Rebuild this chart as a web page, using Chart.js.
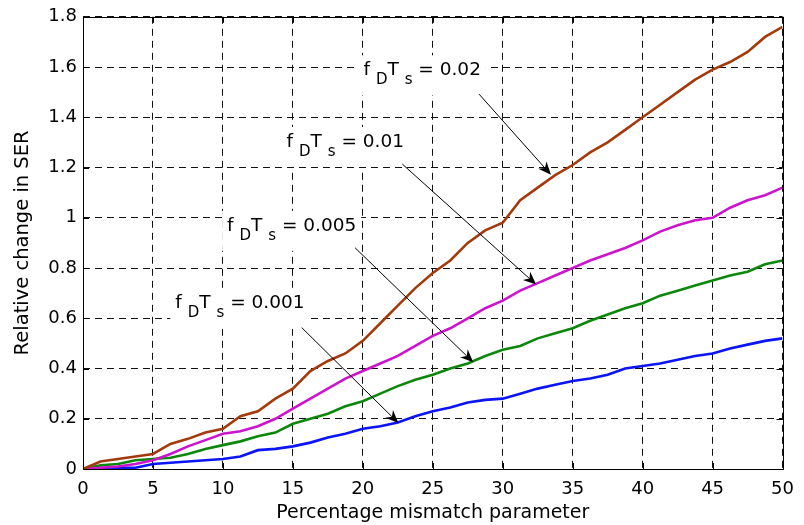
<!DOCTYPE html>
<html>
<head>
<meta charset="UTF-8">
<title>Relative change in SER</title>
<script src="https://cdn.jsdelivr.net/npm/chart.js@4.4.0/dist/chart.umd.min.js"></script>
<style>
    body { margin: 0; background: #fff; }
    #wrap { width: 804px; height: 525px; }
</style>
</head>
<body>
<div id="wrap"><canvas id="ser-chart"></canvas></div>
<script>
// percentage mismatch parameter (x axis)
const mismatch = [0, 1.25, 2.5, 3.75, 5, 6.25, 7.5, 8.75, 10, 11.25, 12.5, 13.75, 15, 16.25, 17.5, 18.75,
    20, 21.25, 22.5, 23.75, 25, 26.25, 27.5, 28.75, 30, 31.25, 32.5, 33.75, 35, 36.25, 37.5, 38.75,
    40, 41.25, 42.5, 43.75, 45, 46.25, 47.5, 48.75, 50];

// relative change in SER, one list per fD*Ts
const ser002 = [0, 0.03, 0.04, 0.05, 0.06, 0.10, 0.12, 0.145, 0.16, 0.21, 0.23, 0.28, 0.32, 0.39, 0.43, 0.46,
    0.51, 0.58, 0.65, 0.72, 0.78, 0.83, 0.90, 0.95, 0.98, 1.07, 1.12, 1.17, 1.21, 1.26, 1.30, 1.35,
    1.40, 1.45, 1.50, 1.55, 1.59, 1.62, 1.66, 1.72, 1.76];
const ser001 = [0, 0.005, 0.01, 0.02, 0.035, 0.06, 0.09, 0.115, 0.14, 0.15, 0.17, 0.20, 0.24, 0.28, 0.32, 0.36,
    0.39, 0.42, 0.45, 0.49, 0.53, 0.56, 0.60, 0.64, 0.67, 0.71, 0.74, 0.77, 0.80, 0.83, 0.855, 0.88,
    0.91, 0.945, 0.97, 0.99, 1.00, 1.04, 1.07, 1.09, 1.12];
const ser0005 = [0, 0.015, 0.02, 0.035, 0.04, 0.045, 0.06, 0.08, 0.095, 0.11, 0.13, 0.145, 0.18, 0.20, 0.22, 0.25,
    0.27, 0.30, 0.33, 0.355, 0.375, 0.40, 0.42, 0.45, 0.475, 0.49, 0.52, 0.54, 0.56, 0.59, 0.615, 0.64,
    0.66, 0.69, 0.71, 0.73, 0.75, 0.77, 0.785, 0.815, 0.83];
const ser0001 = [0, 0.005, 0.005, 0.005, 0.02, 0.025, 0.03, 0.035, 0.04, 0.05, 0.075, 0.08, 0.09, 0.105, 0.125, 0.14,
    0.16, 0.17, 0.185, 0.21, 0.23, 0.245, 0.265, 0.275, 0.28, 0.30, 0.32, 0.335, 0.35, 0.36, 0.375, 0.40,
    0.41, 0.42, 0.435, 0.45, 0.46, 0.48, 0.495, 0.51, 0.52];

const xTicks = [0, 5, 10, 15, 20, 25, 30, 35, 40, 45, 50];
const yTicks = [0, 0.2, 0.4, 0.6, 0.8, 1, 1.2, 1.4, 1.6, 1.8];
const yTickLabels = ['0', '0.2', '0.4', '0.6', '0.8', '1', '1.2', '1.4', '1.6', '1.8'];

// text labels + arrows, in data coordinates
const labelValues = ['0.02', '0.01', '0.005', '0.001'];
const labelAt = [[20.05, 1.567], [14.55, 1.282], [10.3, 0.948], [6.6, 0.639]];
const arrowFrom = [[28.31, 1.492], [22.82, 1.214], [19.44, 0.881], [15.63, 0.563]];
const arrowTo = [[33.45, 1.171], [32.39, 0.734], [27.89, 0.425], [22.54, 0.183]];

const FONT = '"DejaVu Sans", sans-serif';

function pts(ys) {
    return mismatch.map((x, i) => ({ x: x, y: ys[i] }));
}

// draws "f_D T_s = value" with a white box behind it
function drawLabel(ctx, x, y, value) {
    const main = '18.5px ' + FONT, sub = '15px ' + FONT;
    const parts = [['f ', main, 0], ['D', sub, 9], ['T ', main, 0], ['s', sub, 9], [' = ' + value, main, 0]];
    let w = 0;
    parts.forEach(p => { ctx.font = p[1]; w += ctx.measureText(p[0]).width; });
    ctx.fillStyle = '#fff';
    ctx.fillRect(x - 5, y - 20, w + 10, 40);
    ctx.fillStyle = '#000';
    ctx.textBaseline = 'alphabetic';
    ctx.textAlign = 'left';
    let cx = x;
    parts.forEach(p => {
        ctx.font = p[1];
        ctx.fillText(p[0], cx, y + p[2]);
        cx += ctx.measureText(p[0]).width;
    });
}

function drawArrow(ctx, x1, y1, x2, y2) {
    const ang = Math.atan2(y2 - y1, x2 - x1);
    const len = 13, half = 5.5, back = 9;
    ctx.strokeStyle = '#000';
    ctx.lineWidth = 1;
    ctx.beginPath();
    ctx.moveTo(x1, y1);
    ctx.lineTo(x2 - Math.cos(ang) * back, y2 - Math.sin(ang) * back);
    ctx.stroke();
    const c = Math.cos(ang), s = Math.sin(ang);
    ctx.fillStyle = '#000';
    ctx.beginPath();
    ctx.moveTo(x2, y2);
    ctx.lineTo(x2 - c * len - s * half, y2 - s * len + c * half);
    ctx.lineTo(x2 - c * back, y2 - s * back);
    ctx.lineTo(x2 - c * len + s * half, y2 - s * len - c * half);
    ctx.closePath();
    ctx.fill();
}

const annotations = {
    id: 'annotations',
    afterDatasetsDraw(chart) {
        const ctx = chart.ctx, xs = chart.scales.x, ys = chart.scales.y;
        ctx.save();
        labelValues.forEach((v, i) => {
            drawLabel(ctx, xs.getPixelForValue(labelAt[i][0]), ys.getPixelForValue(labelAt[i][1]), v);
        });
        labelValues.forEach((v, i) => {
            drawArrow(ctx,
                xs.getPixelForValue(arrowFrom[i][0]), ys.getPixelForValue(arrowFrom[i][1]),
                xs.getPixelForValue(arrowTo[i][0]), ys.getPixelForValue(arrowTo[i][1]));
        });
        ctx.restore();
    },
    afterDraw(chart) {
        // matlab style box with inward ticks
        const ctx = chart.ctx, a = chart.chartArea, xs = chart.scales.x, ys = chart.scales.y;
        ctx.save();
        ctx.strokeStyle = '#000';
        ctx.lineWidth = 1;
        ctx.strokeRect(Math.round(a.left) + 0.5, Math.round(a.top) + 0.5,
            Math.round(a.right - a.left), Math.round(a.bottom - a.top));
        ctx.beginPath();
        xTicks.forEach(t => {
            const px = Math.round(xs.getPixelForValue(t)) + 0.5;
            ctx.moveTo(px, a.bottom); ctx.lineTo(px, a.bottom - 6);
            ctx.moveTo(px, a.top); ctx.lineTo(px, a.top + 6);
        });
        yTicks.forEach(t => {
            const py = Math.round(ys.getPixelForValue(t)) + 0.5;
            ctx.moveTo(a.left, py); ctx.lineTo(a.left + 6, py);
            ctx.moveTo(a.right, py); ctx.lineTo(a.right - 6, py);
        });
        ctx.stroke();
        ctx.restore();
    }
};

const gridOpts = { color: '#111', lineWidth: 1, drawTicks: false };

new Chart(document.getElementById('ser-chart'), {
    type: 'line',
    data: {
        datasets: [
            { label: 'fDTs = 0.02', data: pts(ser002), borderColor: '#A33A0B' },
            { label: 'fDTs = 0.01', data: pts(ser001), borderColor: '#CC14CC' },
            { label: 'fDTs = 0.005', data: pts(ser0005), borderColor: '#0C870C' },
            { label: 'fDTs = 0.001', data: pts(ser0001), borderColor: '#0A14F5' }
        ]
    },
    options: {
        responsive: true,
        maintainAspectRatio: false,
        animation: false,
        layout: { padding: { left: 0, right: 11, top: 15, bottom: 0 } },
        elements: {
            point: { radius: 0 },
            line: { borderWidth: 2.6, tension: 0, fill: false }
        },
        plugins: {
            legend: { display: false },
            tooltip: { enabled: false }
        },
        scales: {
            x: {
                type: 'linear',
                min: 0,
                max: 50,
                afterBuildTicks: s => { s.ticks = xTicks.map(v => ({ value: v })); },
                afterFit: s => { s.height = 56; },
                grid: gridOpts,
                border: { display: false, dash: [7, 5] },
                ticks: { color: '#000', padding: 10, maxRotation: 0, font: { family: FONT, size: 18 } },
                title: {
                    display: true,
                    text: 'Percentage mismatch parameter',
                    color: '#000',
                    font: { family: FONT, size: 19 },
                    padding: { top: 0, bottom: 1 }
                }
            },
            y: {
                min: 0,
                max: 1.8,
                afterBuildTicks: s => { s.ticks = yTicks.map(v => ({ value: v })); },
                afterFit: s => { s.width = 83; },
                grid: gridOpts,
                border: { display: false, dash: [7, 5] },
                ticks: {
                    color: '#000',
                    padding: 6,
                    font: { family: FONT, size: 18 },
                    callback: (v) => yTickLabels[yTicks.indexOf(v)] ?? ''
                },
                title: {
                    display: true,
                    text: 'Relative change in SER',
                    color: '#000',
                    font: { family: FONT, size: 19.5 },
                    padding: { top: 11, bottom: 0 }
                }
            }
        }
    },
    plugins: [annotations]
});
</script>
</body>
</html>
